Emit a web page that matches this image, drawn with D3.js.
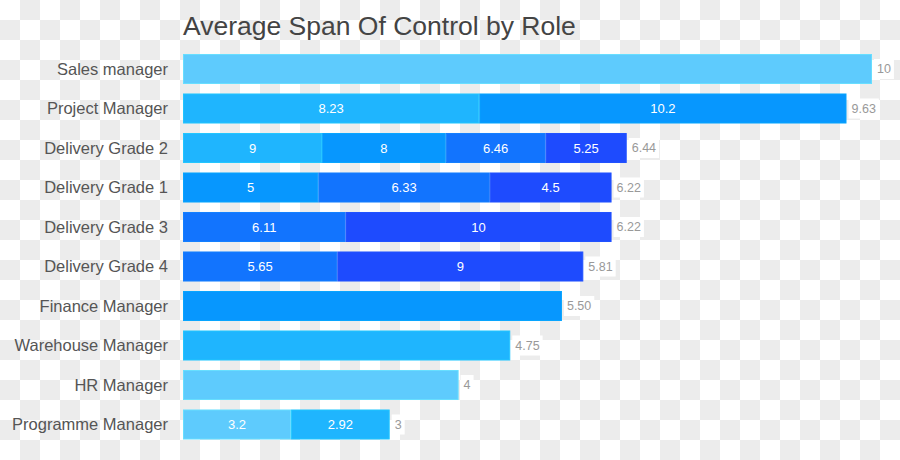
<!DOCTYPE html>
<html>
<head>
<meta charset="utf-8">
<script src="https://cdn.jsdelivr.net/npm/d3@7"></script>
<style>
  body { margin: 0; }
  text { font-family: "Liberation Sans", Arial, sans-serif; }
</style>
</head>
<body>
<script>
const roles = [
  "Sales manager", "Project Manager", "Delivery Grade 2", "Delivery Grade 1",
  "Delivery Grade 3", "Delivery Grade 4", "Finance Manager", "Warehouse Manager",
  "HR Manager", "Programme Manager"
];
const averages = [10, 9.63, 6.44, 6.22, 6.22, 5.81, 5.5, 4.75, 4, 3];
const averageLabels = ["10", "9.63", "6.44", "6.22", "6.22", "5.81", "5.50", "4.75", "4", "3"];
// split of each bar (empty = one unlabelled piece)
const segmentValues = [
  [], [8.23, 10.2], [9, 8, 6.46, 5.25], [5, 6.33, 4.5], [6.11, 10],
  [5.65, 9], [], [], [], [3.2, 2.92]
];
const levels = ["L1", "L2", "L3", "L4", "L5"];
const segmentLevels = [
  ["L1"], ["L2", "L3"], ["L2", "L3", "L4", "L5"], ["L3", "L4", "L5"], ["L4", "L5"],
  ["L4", "L5"], ["L3"], ["L2"], ["L1"], ["L1", "L2"]
];

const width = 900, height = 460;
const margin = { top: 49.25, left: 183, right: 28, bottom: 15.75 };

const svg = d3.select("body").append("svg")
  .attr("width", width)
  .attr("height", height);

// checkered backdrop
const pat = svg.append("defs").append("pattern")
  .attr("id", "checker")
  .attr("width", 40).attr("height", 40)
  .attr("patternUnits", "userSpaceOnUse");
pat.append("rect").attr("width", 40).attr("height", 40).attr("fill", "#ffffff");
pat.append("rect").attr("x", 20).attr("width", 20).attr("height", 20).attr("fill", "#ececec");
pat.append("rect").attr("y", 20).attr("width", 20).attr("height", 20).attr("fill", "#ececec");
svg.append("rect").attr("width", width).attr("height", height).attr("fill", "url(#checker)");

const x = d3.scaleLinear().domain([0, 10]).range([margin.left, width - margin.right]);
const y = d3.scaleBand()
  .domain(roles)
  .range([margin.top, height - margin.bottom])
  .paddingInner(0.24)
  .paddingOuter(0.12);
const color = d3.scaleOrdinal()
  .domain(levels)
  .range(["#5ecbfd", "#1fb5fe", "#0797fe", "#1274fe", "#1e4bfe"]);

// flatten rows into pieces
const pieces = [];
roles.forEach((role, i) => {
  const vals = segmentValues[i].length ? segmentValues[i] : [1];
  const sum = d3.sum(vals);
  let cum = 0;
  vals.forEach((v, j) => {
    pieces.push({
      role,
      level: segmentLevels[i][j],
      label: segmentValues[i].length ? String(v) : "",
      x0: x(averages[i] * cum / sum),
      x1: x(averages[i] * (cum + v) / sum)
    });
    cum += v;
  });
});

svg.append("text")
  .attr("x", margin.left)
  .attr("y", 35)
  .attr("font-size", 26.5)
  .attr("fill", "#444")
  .text("Average Span Of Control by Role");

svg.selectAll(".role")
  .data(roles)
  .enter()
  .append("text")
  .attr("class", "role")
  .attr("x", 168)
  .attr("y", (d) => y(d) + y.bandwidth() / 2)
  .attr("dy", "0.35em")
  .attr("text-anchor", "end")
  .attr("font-size", 16.5)
  .attr("fill", "#555")
  .text((d) => d);

svg.selectAll(".piece")
  .data(pieces)
  .enter()
  .append("rect")
  .attr("class", "piece")
  .attr("x", (d) => d.x0 + 0.5)
  .attr("y", (d) => y(d.role) + 0.5)
  .attr("width", (d) => d.x1 - d.x0 - 1)
  .attr("height", y.bandwidth() - 1)
  .attr("fill", (d) => color(d.level))
  .attr("stroke", (d) => d3.color(color(d.level)).brighter(0.25))
  .attr("stroke-width", 1);

svg.selectAll(".piece-label")
  .data(pieces.filter((d) => d.label))
  .enter()
  .append("text")
  .attr("class", "piece-label")
  .attr("x", (d) => (d.x0 + d.x1) / 2)
  .attr("y", (d) => y(d.role) + y.bandwidth() / 2)
  .attr("dy", "0.35em")
  .attr("text-anchor", "middle")
  .attr("font-size", 13)
  .attr("fill", "#fff")
  .text((d) => d.label);

// average labels on white boxes
const totals = svg.selectAll(".total")
  .data(roles)
  .enter()
  .append("g")
  .attr("class", "total")
  .attr("transform", (d, i) => `translate(${x(averages[i]) + 5},${y(d) + y.bandwidth() / 2})`);

totals.append("rect")
  .attr("x", -3)
  .attr("y", -10)
  .attr("height", 20)
  .attr("fill", "#fff");

totals.append("text")
  .attr("dy", "0.35em")
  .attr("font-size", 12.5)
  .attr("fill", "#999")
  .text((d, i) => averageLabels[i]);

totals.each(function () {
  const g = d3.select(this);
  const w = g.select("text").node().getComputedTextLength();
  g.select("rect").attr("width", w + 6);
});
</script>
</body>
</html>
